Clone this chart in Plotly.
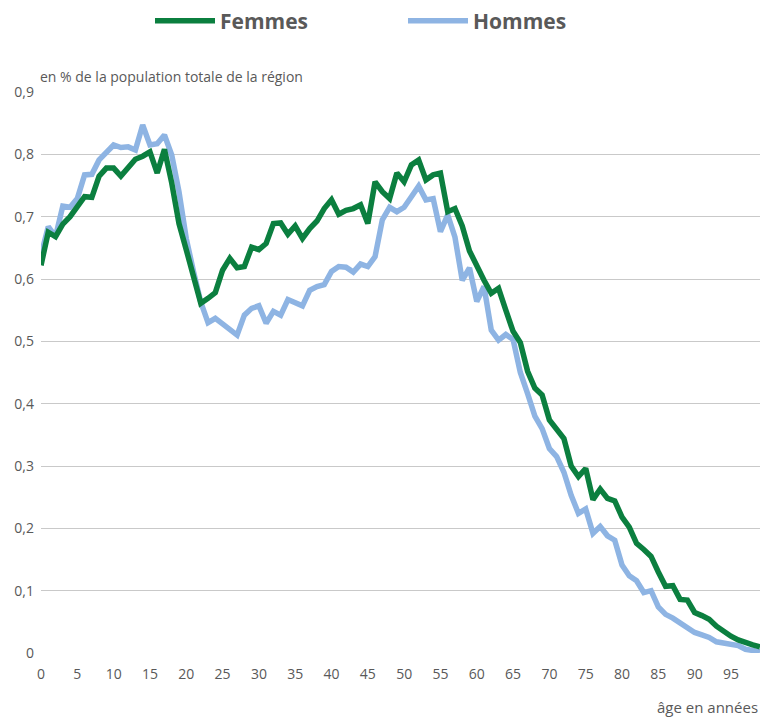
import plotly.graph_objects as go

ages = list(range(0, 100))

femmes = [
    0.622, 0.675, 0.668, 0.688, 0.700, 0.717, 0.732, 0.731, 0.765, 0.778,
    0.778, 0.765, 0.780, 0.792, 0.797, 0.804, 0.770, 0.808, 0.754, 0.689,
    0.647, 0.604, 0.561, 0.569, 0.578, 0.614, 0.633, 0.618, 0.620, 0.651,
    0.647, 0.657, 0.689, 0.690, 0.672, 0.685, 0.665, 0.681, 0.693, 0.713,
    0.727, 0.704, 0.710, 0.713, 0.719, 0.689, 0.756, 0.740, 0.729, 0.770,
    0.756, 0.783, 0.791, 0.759, 0.767, 0.770, 0.708, 0.713, 0.685, 0.645,
    0.620, 0.598, 0.577, 0.585, 0.550, 0.516, 0.498, 0.452, 0.425, 0.414,
    0.374, 0.360, 0.344, 0.300, 0.283, 0.296, 0.246, 0.263, 0.248, 0.244,
    0.218, 0.202, 0.176, 0.166, 0.155, 0.130, 0.107, 0.108, 0.086, 0.085,
    0.065, 0.060, 0.054, 0.043, 0.034, 0.027, 0.021, 0.016, 0.013, 0.010,
]

hommes = [
    0.638, 0.684, 0.668, 0.717, 0.715, 0.729, 0.767, 0.768, 0.791, 0.803,
    0.815, 0.811, 0.812, 0.807, 0.847, 0.815, 0.817, 0.831, 0.799, 0.740,
    0.665, 0.612, 0.563, 0.530, 0.537, 0.528, 0.519, 0.510, 0.542, 0.553,
    0.557, 0.529, 0.548, 0.542, 0.567, 0.561, 0.557, 0.582, 0.588, 0.591,
    0.612, 0.620, 0.619, 0.611, 0.624, 0.620, 0.636, 0.695, 0.715, 0.708,
    0.715, 0.732, 0.749, 0.727, 0.729, 0.676, 0.703, 0.667, 0.598, 0.618,
    0.564, 0.588, 0.518, 0.502, 0.511, 0.503, 0.450, 0.416, 0.380, 0.360,
    0.328, 0.315, 0.290, 0.253, 0.224, 0.231, 0.192, 0.203, 0.188, 0.181,
    0.141, 0.124, 0.116, 0.097, 0.100, 0.074, 0.062, 0.056, 0.049, 0.041,
    0.033, 0.029, 0.025, 0.018, 0.016, 0.014, 0.012, 0.006, 0.004, 0.002,
]

x_tickvals = list(range(0, 100, 5))
x_ticktext = [str(v) for v in x_tickvals]
y_tickvals = [0, 0.1, 0.2, 0.3, 0.4, 0.5, 0.6, 0.7, 0.8, 0.9]
y_ticktext = ["0", "0,1", "0,2", "0,3", "0,4", "0,5", "0,6", "0,7", "0,8", "0,9"]

GREEN = "#0B7F3F"
BLUE = "#8EB4E3"
TXT = "#595959"
GRID = "#C9C9C9"
FONT = "Open Sans"

fig = go.Figure()
fig.add_trace(go.Scatter(x=ages, y=hommes, mode="lines", name="Hommes",
                         line=dict(color=BLUE, width=5.5), legendrank=2))
fig.add_trace(go.Scatter(x=ages, y=femmes, mode="lines", name="Femmes",
                         line=dict(color=GREEN, width=5.5), legendrank=1))

fig.update_layout(
    width=765, height=709,
    margin=dict(l=33, r=13, t=84, b=64, autoexpand=False),
    paper_bgcolor="white", plot_bgcolor="white",
    font=dict(family=FONT, color=TXT, size=14),
    separators=", ",
    showlegend=True,
    legend=dict(
        orientation="h", x=0.1516, xanchor="left", y=1.1266, yanchor="middle",
        yref="paper", xref="paper",
        font=dict(family=FONT, size=21, color=TXT, weight="bold"),
        entrywidth=178, entrywidthmode="pixels",
        itemwidth=60, traceorder="normal",
    ),
    xaxis=dict(
        range=[0, 99], tickvals=x_tickvals, ticktext=x_ticktext,
        showgrid=False, zeroline=False, showline=False, ticks="",
        tickfont=dict(size=14, color=TXT), ticklabelstandoff=11, automargin=False,
    ),
    yaxis=dict(
        range=[0, 0.9], tickvals=y_tickvals, ticktext=y_ticktext,
        showgrid=True, gridcolor=GRID, gridwidth=1, zeroline=False,
        showline=False, ticks="", tickfont=dict(size=14, color=TXT),
        ticklabelstandoff=6, automargin=False,
    ),
    annotations=[
        dict(text="en % de la population totale de la région", xref="paper", yref="paper",
             x=-0.004, y=1, xanchor="left", yanchor="bottom", yshift=4, showarrow=False,
             font=dict(size=14, color=TXT, family=FONT)),
        dict(text="âge en années", xref="paper", yref="paper",
             x=1, y=0, xanchor="right", yanchor="top", yshift=-42, showarrow=False,
             font=dict(size=15, color=TXT, family=FONT)),
    ],
)

fig.write_html("out.html")
